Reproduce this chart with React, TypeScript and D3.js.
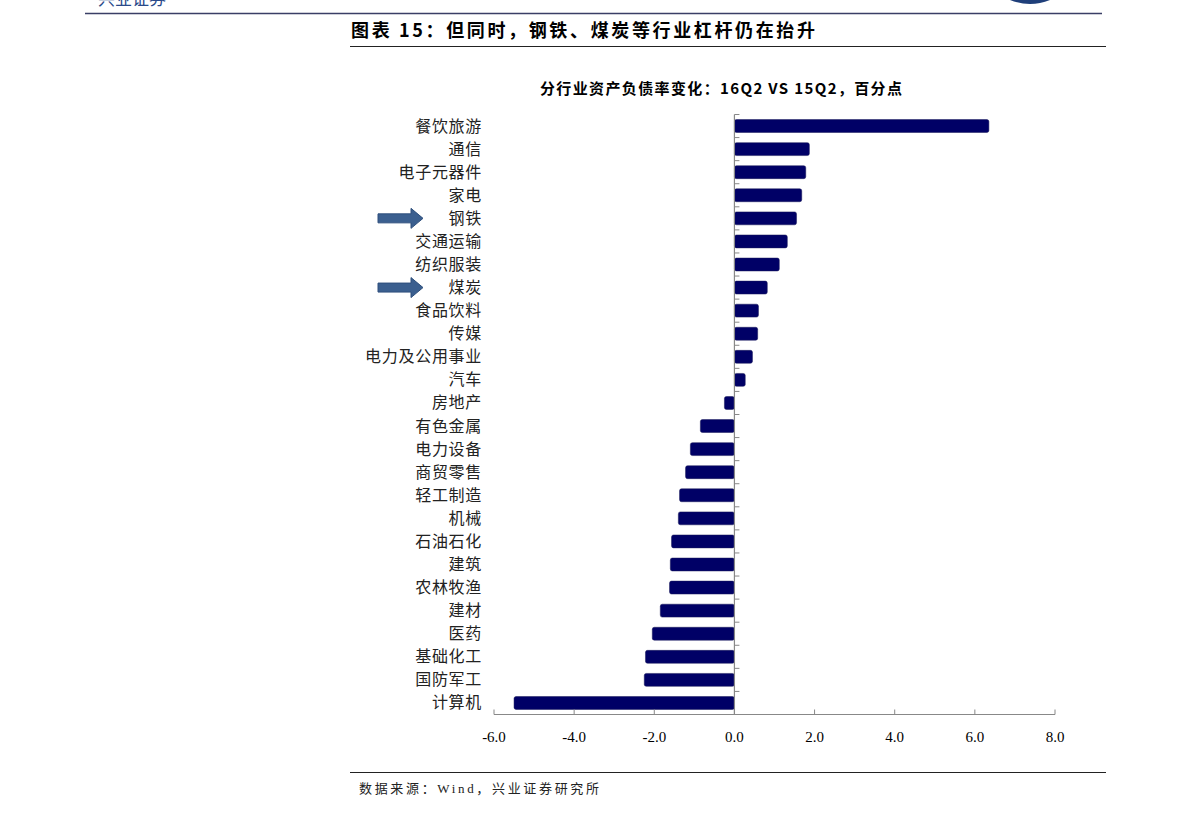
import React from "react";
import * as d3 from "d3";

const categories = ["餐饮旅游","通信","电子元器件","家电","钢铁","交通运输","纺织服装","煤炭","食品饮料","传媒","电力及公用事业","汽车","房地产","有色金属","电力设备","商贸零售","轻工制造","机械","石油石化","建筑","农林牧渔","建材","医药","基础化工","国防军工","计算机"];
const values = [6.35,1.87,1.78,1.68,1.55,1.32,1.12,0.82,0.6,0.58,0.45,0.27,-0.25,-0.85,-1.1,-1.22,-1.37,-1.4,-1.57,-1.6,-1.62,-1.85,-2.05,-2.22,-2.25,-5.5];
const xTicks = [-6,-4,-2,0,2,4,6,8];
const highlighted = ["钢铁","煤炭"];

const W = 1191, H = 821;
const serif = "'Liberation Serif','Times New Roman',serif";
const cjk = "'Noto Sans CJK SC','Liberation Serif',serif";

export default function App() {
  const x = d3.scaleLinear().domain([-6, 8]).range([494, 1055]);
  const y = d3.scaleBand().domain(categories).range([114.5, 714.5]).paddingInner(0.44).paddingOuter(0.22);
  const band = d3.scaleBand().domain(categories).range([114.5, 714.5]);
  const axisY = 714.5;
  const x0 = x(0);
  return (
    <svg width={W} height={H} style={{ position: "absolute", left: 0, top: 0, background: "#fff" }}>
      <rect width={W} height={H} fill="#fff" />
      {/* header */}
      <text x={98} y={5} fontFamily={cjk} fontSize={17} fill="#2a4a8a">兴业证券</text>
      <path d="M1010,0 Q1030,8 1050,0 Z" fill="#1f3f7a" />
      <line x1={85} x2={1102} y1={13.5} y2={13.5} stroke="#3a3f66" strokeWidth={1.5} />
      <text x={351} y={37} fontFamily={cjk} fontWeight="bold" fontSize={18} fill="#000" textLength={464} lengthAdjust="spacing">图表 15：但同时，钢铁、煤炭等行业杠杆仍在抬升</text>
      <line x1={350} x2={1106} y1={46.5} y2={46.5} stroke="#222" strokeWidth={1} />
      {/* chart title */}
      <text x={540} y={94} fontFamily={cjk} fontWeight="bold" fontSize={15} fill="#000" textLength={362} lengthAdjust="spacing">分行业资产负债率变化：16Q2 VS 15Q2，百分点</text>
      {/* bars */}
      {categories.map((c, i) => {
        const v = values[i];
        const bx = Math.min(x(v), x0);
        const bw = Math.abs(x(v) - x0);
        return <rect key={c} x={bx} y={y(c)!} width={bw} height={y.bandwidth()} rx={2} fill="#000066" stroke="#1a1a5a" strokeWidth={0.5} />;
      })}
      {/* zero axis */}
      <line x1={x0} x2={x0} y1={114.5} y2={axisY} stroke="#888" strokeWidth={1.2} />
      {categories.map((c) => (
        <line key={"t" + c} x1={x0} x2={x0 + 5} y1={band(c)!} y2={band(c)!} stroke="#888" strokeWidth={1} />
      ))}
      {/* x axis */}
      <line x1={x(-6)} x2={x(8)} y1={axisY} y2={axisY} stroke="#888" strokeWidth={1.2} />
      {xTicks.map((t) => (
        <g key={t}>
          <line x1={x(t)} x2={x(t)} y1={axisY} y2={axisY - 5} stroke="#888" strokeWidth={1} />
          <text x={x(t)} y={742} textAnchor="middle" fontFamily={serif} fontSize={15} fill="#000">{t.toFixed(1)}</text>
        </g>
      ))}
      {/* category labels */}
      {categories.map((c) => (
        <text key={"l" + c} x={482} y={y(c)! + y.bandwidth() / 2 + 5.5} textAnchor="end" fontFamily={cjk} fontSize={16} letterSpacing={0.7} fill="#222">{c}</text>
      ))}
      {/* arrows */}
      {highlighted.map((c) => {
        const cy = y(c)! + y.bandwidth() / 2;
        const xa = 378, xb = 423;
        return <path key={"a" + c} d={`M${xa},${cy - 4.5} L${xb - 12},${cy - 4.5} L${xb - 12},${cy - 10} L${xb},${cy} L${xb - 12},${cy + 10} L${xb - 12},${cy + 4.5} L${xa},${cy + 4.5} Z`} fill="#3b5f8f" stroke="#2e4f7c" strokeWidth={1} />;
      })}
      {/* footer */}
      <line x1={350} x2={1106} y1={772.5} y2={772.5} stroke="#222" strokeWidth={1} />
      <text x={359} y={793} fontFamily={cjk} fontSize={13} fill="#222" textLength={240} lengthAdjust="spacing">数据来源：<tspan fontFamily={serif}>Wind</tspan>，兴业证券研究所</text>
    </svg>
  );
}
